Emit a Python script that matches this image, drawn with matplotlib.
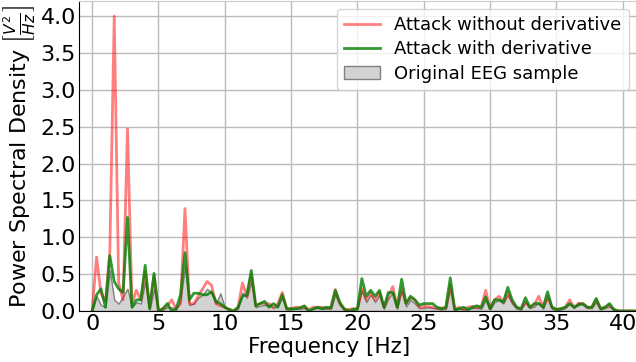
import numpy as np
import matplotlib.pyplot as plt

# frequency bins (1/3 Hz resolution)
freqs = np.arange(0, 124) / 3.0

# PSD values, one per bin
attack_no_deriv = [
    0.00, 0.73, 0.24, 0.13, 0.80, 4.00, 0.38, 0.15, 2.47, 0.10, 0.28, 0.15,
    0.53, 0.05, 0.48, 0.00, 0.03, 0.07, 0.15, 0.03, 0.10, 1.39, 0.10, 0.10,
    0.20, 0.30, 0.40, 0.35, 0.10, 0.07, 0.05, 0.02, 0.00, 0.05, 0.38, 0.20,
    0.50, 0.07, 0.10, 0.10, 0.10, 0.05, 0.10, 0.25, 0.03, 0.03, 0.05, 0.05,
    0.05, 0.02, 0.05, 0.05, 0.05, 0.04, 0.05, 0.29, 0.10, 0.02, 0.02, 0.03,
    0.03, 0.30, 0.15, 0.25, 0.15, 0.25, 0.05, 0.20, 0.33, 0.05, 0.30, 0.10,
    0.18, 0.15, 0.05, 0.06, 0.06, 0.05, 0.04, 0.04, 0.04, 0.35, 0.02, 0.05,
    0.02, 0.05, 0.06, 0.05, 0.05, 0.28, 0.03, 0.15, 0.20, 0.12, 0.25, 0.12,
    0.05, 0.03, 0.12, 0.05, 0.08, 0.20, 0.05, 0.20, 0.05, 0.02, 0.03, 0.05,
    0.15, 0.05, 0.10, 0.10, 0.05, 0.05, 0.15, 0.03, 0.05, 0.08, 0.02, 0.00,
    0.00, 0.00, 0.00, 0.00,
]
attack_deriv = [
    0.00, 0.22, 0.30, 0.05, 0.75, 0.40, 0.30, 0.25, 1.27, 0.05, 0.15, 0.15,
    0.62, 0.03, 0.51, 0.00, 0.03, 0.10, 0.00, 0.03, 0.22, 0.79, 0.15, 0.24,
    0.24, 0.22, 0.22, 0.26, 0.13, 0.10, 0.05, 0.02, 0.00, 0.05, 0.20, 0.22,
    0.55, 0.07, 0.10, 0.13, 0.05, 0.10, 0.05, 0.22, 0.03, 0.03, 0.03, 0.04,
    0.07, 0.00, 0.03, 0.05, 0.03, 0.05, 0.04, 0.28, 0.12, 0.03, 0.00, 0.02,
    0.03, 0.44, 0.20, 0.28, 0.20, 0.28, 0.05, 0.25, 0.25, 0.05, 0.43, 0.10,
    0.20, 0.15, 0.08, 0.10, 0.10, 0.10, 0.05, 0.03, 0.05, 0.45, 0.02, 0.03,
    0.05, 0.02, 0.05, 0.07, 0.05, 0.19, 0.03, 0.15, 0.15, 0.12, 0.32, 0.15,
    0.05, 0.03, 0.18, 0.05, 0.10, 0.10, 0.05, 0.26, 0.05, 0.02, 0.03, 0.05,
    0.10, 0.05, 0.08, 0.10, 0.05, 0.05, 0.17, 0.03, 0.05, 0.10, 0.02, 0.00,
    0.00, 0.00, 0.00, 0.00,
]
original_eeg = [
    0.00, 0.20, 0.08, 0.05, 0.55, 0.15, 0.10, 0.20, 0.30, 0.05, 0.12, 0.10,
    0.40, 0.02, 0.30, 0.00, 0.02, 0.05, 0.05, 0.02, 0.15, 0.60, 0.08, 0.10,
    0.18, 0.22, 0.30, 0.25, 0.10, 0.24, 0.05, 0.02, 0.00, 0.03, 0.25, 0.18,
    0.40, 0.05, 0.07, 0.08, 0.08, 0.04, 0.07, 0.18, 0.02, 0.02, 0.03, 0.03,
    0.04, 0.00, 0.03, 0.04, 0.03, 0.03, 0.03, 0.22, 0.08, 0.02, 0.00, 0.02,
    0.02, 0.28, 0.12, 0.22, 0.12, 0.22, 0.03, 0.17, 0.25, 0.03, 0.28, 0.06,
    0.15, 0.10, 0.04, 0.04, 0.05, 0.04, 0.03, 0.02, 0.03, 0.30, 0.01, 0.03,
    0.02, 0.02, 0.04, 0.04, 0.03, 0.15, 0.02, 0.12, 0.15, 0.10, 0.22, 0.10,
    0.03, 0.02, 0.12, 0.04, 0.06, 0.12, 0.03, 0.18, 0.03, 0.01, 0.02, 0.04,
    0.10, 0.04, 0.12, 0.08, 0.04, 0.04, 0.12, 0.02, 0.04, 0.06, 0.01, 0.00,
    0.00, 0.00, 0.00, 0.00,
]

fig = plt.figure(figsize=(6.36, 3.62), dpi=100)
ax = fig.add_axes([0.124, 0.141, 0.876, 0.855])

ax.fill_between(freqs, original_eeg, color="lightgray", edgecolor="gray",
                linewidth=1, alpha=1.0, label="Original EEG sample")
ax.plot(freqs, attack_no_deriv, color="red", alpha=0.5, linewidth=2,
        label="Attack without derivative")
ax.plot(freqs, attack_deriv, color="green", alpha=0.8, linewidth=2,
        label="Attack with derivative")

ax.set_xlim(-1, 41)
ax.set_ylim(0, 4.2)
ax.set_xticks(np.arange(0, 41, 5))
ax.set_yticks(np.arange(0, 4.01, 0.5))
ax.grid(True, color="#bbbbbb", linewidth=1)
ax.set_axisbelow(True)
ax.tick_params(labelsize=16, length=0, pad=2)
for side in ["top", "right"]:
    ax.spines[side].set_color("#cccccc")
ax.set_xlabel("Frequency [Hz]", fontsize=15.5)
ax.xaxis.set_label_coords(0.449, -0.085)
ax.set_ylabel(r"Power Spectral Density $\left[\frac{V^2}{Hz}\right]$",
              fontsize=16, labelpad=2)

handles, labels = ax.get_legend_handles_labels()
ax.legend(handles[1:] + handles[:1], labels[1:] + labels[:1], fontsize=13,
          loc="upper right", borderaxespad=0.4, labelspacing=0.35)

fig.savefig("out.png", dpi=100)
